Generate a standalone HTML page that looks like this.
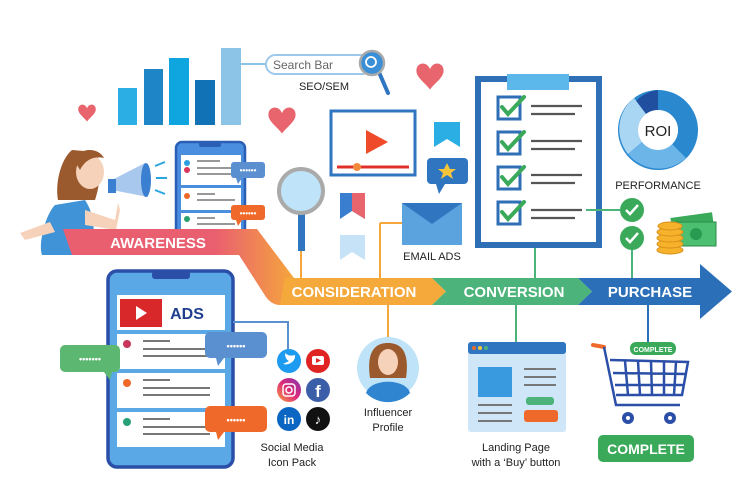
<!DOCTYPE html>
<html><head><meta charset="utf-8"><style>
html,body{margin:0;padding:0;background:#fff}
svg{display:block}
text{font-family:"Liberation Sans",sans-serif}
</style></head><body>
<svg width="744" height="496" viewBox="0 0 744 496" xmlns="http://www.w3.org/2000/svg">
<defs>
<linearGradient id="diag" gradientUnits="userSpaceOnUse" x1="215" y1="0" x2="295" y2="0"><stop offset="0" stop-color="#e95f70"/><stop offset="1" stop-color="#f5a63c"/></linearGradient>
<linearGradient id="ig" x1="0" y1="1" x2="1" y2="0"><stop offset="0" stop-color="#f9a13a"/><stop offset=".5" stop-color="#dd2a7b"/><stop offset="1" stop-color="#8134af"/></linearGradient>
<g id="heart"><path d="M0,6 C-4,-4 -16,-2 -16,8 C-16,16 -6,22 0,30 C6,22 16,16 16,8 C16,-2 4,-4 0,6Z" fill="#e8656e"/></g>
</defs>
<rect width="744" height="496" fill="#fff"/>

<!-- bar chart -->
<rect x="118" y="88" width="19" height="37" fill="#2aaee3"/>
<rect x="144" y="69" width="19" height="56" fill="#1e86c6"/>
<rect x="169" y="58" width="20" height="67" fill="#0fa6e0"/>
<rect x="195" y="80" width="20" height="45" fill="#1272b6"/>
<rect x="221" y="48" width="20" height="77" fill="#8cc4e8"/>
<line x1="241" y1="64" x2="266" y2="64" stroke="#8cc4e8" stroke-width="2"/>
<!-- search bar -->
<rect x="266" y="55" width="106" height="19" rx="9.5" fill="#fff" stroke="#9cc8ec" stroke-width="2"/>
<text x="273" y="69" font-size="12" fill="#666">Search Bar</text>
<line x1="378" y1="70" x2="388" y2="93" stroke="#2f75c0" stroke-width="4" stroke-linecap="round"/>
<circle cx="372" cy="63" r="12" fill="#3a8fd6" stroke="#aaa" stroke-width="2.5"/>
<circle cx="371" cy="62" r="5" fill="none" stroke="#fff" stroke-width="1.8"/>
<text x="324" y="90" font-size="11" text-anchor="middle" fill="#222">SEO/SEM</text>

<!-- hearts -->
<g transform="translate(87,105) scale(0.55)"><use href="#heart"/></g>
<g transform="translate(282,108) scale(0.85)"><use href="#heart"/></g>
<g transform="translate(430,64) scale(0.85)"><use href="#heart"/></g>

<!-- woman -->
<path d="M72,150 C60,160 55,185 58,200 L95,200 C100,185 102,165 96,152 Z" fill="#9b5a2e"/>
<ellipse cx="90" cy="172" rx="14" ry="17" fill="#f6d2bb"/>
<path d="M74,160 C78,148 98,146 104,158 C96,156 86,158 80,170 Z" fill="#9b5a2e"/>
<path d="M55,205 C45,215 38,245 42,255 L90,255 C96,235 95,215 85,200 Z" fill="#3f93d6"/>
<path d="M20,233 L50,222 L55,232 L25,240 Z" fill="#f6d2bb"/>
<path d="M85,210 L115,220 L118,203 L120,210 L116,230 L85,225Z" fill="#f6d2bb"/>
<path d="M112,180 L145,163 L148,197 L112,190 Z" fill="#a8c8ee"/>
<ellipse cx="146" cy="180" rx="5" ry="17" fill="#3b7fd0"/>
<rect x="108" y="179" width="8" height="14" fill="#3b7fd0"/>
<line x1="155" y1="166" x2="165" y2="162" stroke="#2aa5e0" stroke-width="2"/>
<line x1="156" y1="178" x2="167" y2="178" stroke="#2aa5e0" stroke-width="2"/>
<line x1="155" y1="190" x2="165" y2="194" stroke="#2aa5e0" stroke-width="2"/>

<!-- top phone -->
<rect x="176" y="142" width="69" height="105" rx="6" fill="#4a8ee0" stroke="#2b5fb5" stroke-width="2.5"/>
<rect x="199" y="142" width="22" height="5" rx="2" fill="#2b5fb5"/>
<rect x="181" y="155" width="60" height="30" fill="#fff"/>
<rect x="181" y="188" width="60" height="22" fill="#fff"/>
<rect x="181" y="213" width="60" height="22" fill="#fff"/>
<circle cx="187" cy="163" r="3" fill="#2aa0e0"/><circle cx="187" cy="170" r="3" fill="#d8365a"/>
<circle cx="187" cy="196" r="3" fill="#ef6a2a"/><circle cx="187" cy="219" r="3" fill="#28a070"/>
<g stroke="#777" stroke-width="1.5"><line x1="197" y1="161" x2="220" y2="161"/><line x1="197" y1="168" x2="235" y2="168"/><line x1="197" y1="174" x2="235" y2="174"/>
<line x1="197" y1="194" x2="215" y2="194"/><line x1="197" y1="200" x2="235" y2="200"/><line x1="197" y1="218" x2="215" y2="218"/><line x1="197" y1="224" x2="235" y2="224"/></g>
<rect x="231" y="162" width="34" height="16" rx="3" fill="#5a8fd0"/><path d="M236,178 L238,184 L242,178Z" fill="#5a8fd0"/>
<rect x="231" y="205" width="34" height="15" rx="3" fill="#ef6a2a"/><path d="M236,220 L238,226 L242,220Z" fill="#ef6a2a"/>
<text x="248" y="173" font-size="8" fill="#fff" text-anchor="middle" font-weight="bold">••••••</text>
<text x="248" y="216" font-size="8" fill="#fff" text-anchor="middle" font-weight="bold">••••••</text>

<!-- magnifier -->
<line x1="301" y1="250" x2="301" y2="278" stroke="#f5a63c" stroke-width="2"/>
<rect x="298" y="213" width="7" height="38" fill="#2f75c0"/>
<circle cx="301" cy="191" r="22" fill="#bfe3f8" stroke="#aaa" stroke-width="4"/>

<!-- video -->
<rect x="331" y="111" width="84" height="64" fill="#fff" stroke="#2f75c0" stroke-width="3"/>
<path d="M366,130 L388,142 L366,154Z" fill="#ef4a2a"/>
<line x1="337" y1="167" x2="409" y2="167" stroke="#e0302a" stroke-width="3"/>
<circle cx="357" cy="167" r="4" fill="#f08a3a"/>
<!-- bookmarks -->
<path d="M340,193 L365,193 L365,219 L352,211 L340,219Z" fill="#3a7fcf"/><path d="M352,193 L365,193 L365,219 L352,211Z" fill="#e8656e"/>
<path d="M340,235 L365,235 L365,260 L352,252 L340,260Z" fill="#c6e2f6"/>
<path d="M434,122 L460,122 L460,147 L447,139 L434,147Z" fill="#2aaee3"/>
<rect x="427" y="158" width="41" height="26" rx="4" fill="#2f75c0"/><path d="M436,184 L439,194 L445,184Z" fill="#2f75c0"/>
<path d="M447,163 L450,169 L456,169 L451,173 L453,179 L447,175 L441,179 L443,173 L438,169 L444,169Z" fill="#f7c43a"/>
<!-- email -->
<line x1="380" y1="223" x2="403" y2="223" stroke="#f5a63c" stroke-width="2"/>
<line x1="380" y1="223" x2="380" y2="278" stroke="#f5a63c" stroke-width="2"/>
<rect x="402" y="203" width="60" height="42" fill="#5aa3de"/>
<path d="M402,203 L432,224 L462,203Z" fill="#2f75c0"/>
<text x="432" y="260" font-size="11" text-anchor="middle" fill="#222">EMAIL ADS</text>

<!-- clipboard -->
<line x1="535" y1="245" x2="535" y2="278" stroke="#4cb47a" stroke-width="2"/>
<rect x="478" y="79" width="121" height="166" fill="#fff" stroke="#2f6fb5" stroke-width="6"/>
<rect x="507" y="74" width="62" height="16" fill="#5cb8ea"/>
<g fill="none" stroke="#2f6fb5" stroke-width="3">
<rect x="498" y="97" width="22" height="22"/><rect x="498" y="132" width="22" height="22"/><rect x="498" y="167" width="22" height="22"/><rect x="498" y="202" width="22" height="22"/></g>
<g fill="none" stroke="#3aaa5a" stroke-width="4" stroke-linecap="round">
<path d="M502,107 L508,114 L524,97"/><path d="M502,142 L508,149 L524,132"/><path d="M502,177 L508,184 L524,167"/><path d="M502,212 L508,219 L524,202"/></g>
<g stroke="#555" stroke-width="2.2">
<line x1="531" y1="106" x2="582" y2="106"/><line x1="531" y1="114" x2="575" y2="114"/>
<line x1="531" y1="141" x2="582" y2="141"/><line x1="531" y1="149" x2="575" y2="149"/>
<line x1="531" y1="175" x2="582" y2="175"/><line x1="531" y1="183" x2="575" y2="183"/>
<line x1="531" y1="210" x2="582" y2="210"/><line x1="531" y1="218" x2="575" y2="218"/></g>
<line x1="586" y1="210" x2="632" y2="210" stroke="#4cb47a" stroke-width="2"/>
<line x1="632" y1="238" x2="632" y2="278" stroke="#4cb47a" stroke-width="2"/>
<circle cx="632" cy="210" r="12" fill="#3aaa5a"/><circle cx="632" cy="238" r="12" fill="#3aaa5a"/>
<path d="M626,210 L630,214 L638,205" fill="none" stroke="#fff" stroke-width="2.5"/>
<path d="M626,238 L630,242 L638,233" fill="none" stroke="#fff" stroke-width="2.5"/>

<!-- ROI -->
<g transform="translate(658,130)">
<circle r="30" fill="none" stroke="#2a88cf" stroke-width="20"/>
<path d="M-22,-29 A37,37 0 0 1 0,-40 L0,-20 A20,20 0 0 0 -12,-16Z" fill="#1f4f9e"/>
<path d="M-12,-16 A20,20 0 0 0 -16,12 L-30,24 A40,40 0 0 1 -24,-32Z" fill="#a9d6f2"/>
<path d="M-16,12 A20,20 0 0 0 14,14 L28,28 A40,40 0 0 1 -30,24Z" fill="#6bb5e8"/>
<circle r="20" fill="#fff"/>
<text y="6" font-size="15" text-anchor="middle" fill="#222">ROI</text></g>
<text x="658" y="189" font-size="11" text-anchor="middle" fill="#222">PERFORMANCE</text>
<!-- money -->
<rect x="672" y="215" width="42" height="26" fill="#3aaa5a" transform="rotate(-8 693 228)"/>
<rect x="676" y="222" width="40" height="24" fill="#4cc070" stroke="#2a8a4a"/>
<circle cx="696" cy="234" r="6" fill="#2a9a50"/>
<g fill="#f5b22a" stroke="#d9901a" stroke-width="1"><ellipse cx="670" cy="250" rx="13" ry="4"/><ellipse cx="670" cy="244" rx="13" ry="4"/><ellipse cx="670" cy="238" rx="13" ry="4"/><ellipse cx="670" cy="232" rx="13" ry="4"/><ellipse cx="670" cy="226" rx="12" ry="4"/></g>

<!-- bands -->
<path d="M63,229 L257,229 L294,278 L300,292 L285,305 L280,305 Q272,305 266,297 L239,255 L72,255 Z" fill="url(#diag)"/>
<path d="M285,278 L432,278 L446,291.5 L432,305 L280,305 Z" fill="#f5a93a"/>
<path d="M432,278 L578,278 L592,291.5 L578,305 L432,305 L446,291.5Z" fill="#4cb47a"/>
<path d="M578,278 L700,278 L700,264 L732,291.5 L700,319 L700,305 L578,305 L592,291.5Z" fill="#2b6fb8"/>
<g font-weight="bold" fill="#fff" font-size="15" text-anchor="middle">
<text x="158" y="248">AWARENESS</text>
<text x="354" y="297">CONSIDERATION</text>
<text x="514" y="297">CONVERSION</text>
<text x="650" y="297">PURCHASE</text></g>

<!-- influencer -->
<line x1="388" y1="305" x2="388" y2="338" stroke="#f5a63c" stroke-width="2"/>
<circle cx="388" cy="368" r="31" fill="#bfe3f8"/>
<path d="M370,378 C366,350 376,343 388,343 C400,343 410,350 406,378Z" fill="#9b5a2e"/>
<ellipse cx="388" cy="362" rx="10" ry="13" fill="#f6d2bb"/>
<path d="M366,393 C370,378 406,378 410,393 A31,31 0 0 1 366,393Z" fill="#2f85d0"/>
<text x="388" y="416" font-size="11" text-anchor="middle" fill="#222">Influencer</text>
<text x="388" y="431" font-size="11" text-anchor="middle" fill="#222">Profile</text>

<!-- landing page -->
<line x1="516" y1="305" x2="516" y2="342" stroke="#4cb47a" stroke-width="2"/>
<rect x="468" y="342" width="98" height="90" rx="3" fill="#cfe6f8"/>
<rect x="468" y="342" width="98" height="12" rx="3" fill="#2f75c0"/>
<circle cx="474" cy="348" r="2" fill="#ef6a2a"/><circle cx="480" cy="348" r="2" fill="#f7c43a"/><circle cx="486" cy="348" r="2" fill="#4cb47a"/>
<rect x="478" y="367" width="34" height="30" fill="#3a9ae0"/>
<g stroke="#777" stroke-width="2"><line x1="524" y1="369" x2="556" y2="369"/><line x1="524" y1="377" x2="556" y2="377"/><line x1="524" y1="385" x2="556" y2="385"/><line x1="478" y1="405" x2="512" y2="405"/><line x1="478" y1="413" x2="512" y2="413"/><line x1="478" y1="421" x2="512" y2="421"/></g>
<rect x="526" y="397" width="28" height="8" rx="3" fill="#4cb47a"/>
<rect x="524" y="410" width="34" height="12" rx="3" fill="#ef6a2a"/>
<text x="516" y="451" font-size="11" text-anchor="middle" fill="#222">Landing Page</text>
<text x="516" y="466" font-size="11" text-anchor="middle" fill="#222">with a ‘Buy’ button</text>

<!-- cart -->
<line x1="648" y1="305" x2="648" y2="343" stroke="#2b6fb8" stroke-width="2"/>
<rect x="630" y="342" width="46" height="13" rx="6" fill="#3aaa5a"/>
<text x="653" y="352" font-size="7" text-anchor="middle" fill="#fff" font-weight="bold">COMPLETE</text>
<line x1="593" y1="345" x2="604" y2="347" stroke="#ef6a2a" stroke-width="4" stroke-linecap="round"/>
<g fill="none" stroke="#2b4fa8" stroke-width="2.5">
<path d="M604,347 L616,405 L680,405"/>
<path d="M610,360 L688,362 L682,395 L616,395"/>
<path d="M625,361 L628,395 M638,361 L640,395 M651,361 L652,395 M664,362 L664,395 M676,362 L674,395 M613,373 L686,374 M615,385 L684,385"/></g>
<circle cx="628" cy="418" r="6" fill="#2b4fa8"/><circle cx="670" cy="418" r="6" fill="#2b4fa8"/>
<circle cx="628" cy="418" r="2" fill="#fff"/><circle cx="670" cy="418" r="2" fill="#fff"/>
<rect x="598" y="435" width="96" height="27" rx="5" fill="#3aaa5a"/>
<text x="646" y="454" font-size="14" text-anchor="middle" fill="#fff" font-weight="bold">COMPLETE</text>

<!-- ads phone -->
<rect x="108" y="271" width="125" height="196" rx="9" fill="#5aa9e6" stroke="#2b4fa8" stroke-width="3.5"/>
<rect x="152" y="271" width="38" height="8" rx="3" fill="#2b4fa8"/>
<rect x="117" y="295" width="108" height="35" fill="#fff"/>
<rect x="120" y="299" width="42" height="28" fill="#d8282a"/>
<path d="M136,306 L147,313 L136,320Z" fill="#fff"/>
<text x="187" y="319" font-size="16" text-anchor="middle" fill="#1f3f8e" font-weight="bold">ADS</text>
<rect x="117" y="334" width="108" height="35" fill="#fff"/>
<rect x="117" y="373" width="108" height="35" fill="#fff"/>
<rect x="117" y="412" width="108" height="35" fill="#fff"/>
<circle cx="127" cy="344" r="4" fill="#c8365a"/><circle cx="127" cy="383" r="4" fill="#ef6a2a"/><circle cx="127" cy="422" r="4" fill="#28a07a"/>
<g stroke="#777" stroke-width="2"><line x1="143" y1="341" x2="170" y2="341"/><line x1="143" y1="349" x2="210" y2="349"/><line x1="143" y1="356" x2="210" y2="356"/>
<line x1="143" y1="380" x2="170" y2="380"/><line x1="143" y1="388" x2="210" y2="388"/><line x1="143" y1="395" x2="210" y2="395"/>
<line x1="143" y1="419" x2="170" y2="419"/><line x1="143" y1="427" x2="210" y2="427"/><line x1="143" y1="434" x2="210" y2="434"/></g>
<rect x="60" y="345" width="60" height="27" rx="5" fill="#5cb870"/><path d="M104,372 L110,380 L112,372Z" fill="#5cb870"/>
<rect x="205" y="332" width="62" height="26" rx="5" fill="#5a8fd0"/><path d="M216,358 L218,366 L224,358Z" fill="#5a8fd0"/>
<rect x="205" y="406" width="62" height="26" rx="5" fill="#ef6a2a"/><path d="M216,432 L218,440 L224,432Z" fill="#ef6a2a"/>
<g font-size="9" fill="#fff" text-anchor="middle" font-weight="bold"><text x="90" y="362">•••••••</text><text x="236" y="349">••••••</text><text x="236" y="423">••••••</text></g>
<polyline points="233,322 288,322 288,350" fill="none" stroke="#5a8fd0" stroke-width="2"/>

<!-- social icons -->
<circle cx="289" cy="361" r="12" fill="#1d9bf0"/><circle cx="318" cy="361" r="12" fill="#e02424"/>
<circle cx="289" cy="390" r="12" fill="url(#ig)"/><circle cx="318" cy="390" r="12" fill="#3b5ea8"/>
<circle cx="289" cy="419" r="12" fill="#0a66c2"/><circle cx="318" cy="419" r="12" fill="#111"/>
<path d="M283,364 C290,366 296,360 295,355 C292,356 288,356 285,353 C285,358 287,360 289,361 C287,362 285,363 283,364Z" fill="#fff"/>
<rect x="312" y="356" width="12" height="9" rx="2" fill="#fff"/><path d="M316,358 L321,360.5 L316,363Z" fill="#e02424"/>
<rect x="283" y="384" width="12" height="12" rx="3" fill="none" stroke="#fff" stroke-width="1.5"/><circle cx="289" cy="390" r="3" fill="none" stroke="#fff" stroke-width="1.5"/>
<text x="318" y="397" font-size="17" text-anchor="middle" fill="#fff" font-weight="bold">f</text>
<text x="289" y="424" font-size="12" text-anchor="middle" fill="#fff" font-weight="bold">in</text>
<text x="318" y="424" font-size="13" text-anchor="middle" fill="#fff" font-weight="bold">♪</text>
<text x="292" y="451" font-size="11" text-anchor="middle" fill="#222">Social Media</text>
<text x="292" y="466" font-size="11" text-anchor="middle" fill="#222">Icon Pack</text>
</svg>
</body></html>
